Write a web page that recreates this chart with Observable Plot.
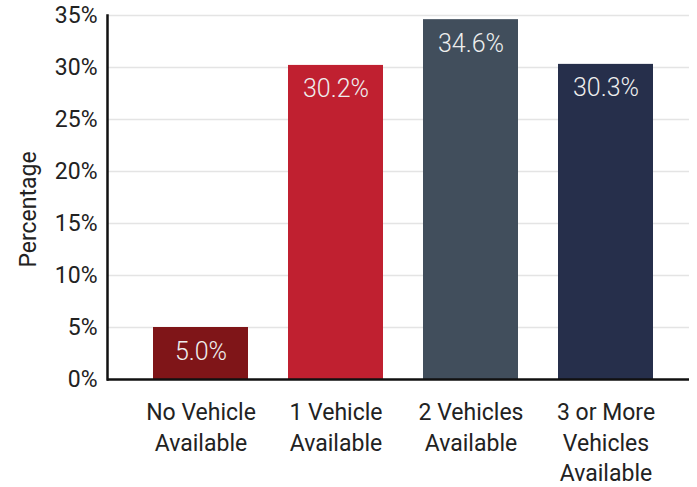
<!DOCTYPE html>
<html>
<head>
<meta charset="utf-8">
<script src="https://cdn.jsdelivr.net/npm/d3@7"></script>
<script src="https://cdn.jsdelivr.net/npm/@observablehq/plot@0.6"></script>
<style>
  html, body { margin: 0; padding: 0; background: #fff; }
  svg { font-family: Roboto, "Noto Sans", sans-serif; }
</style>
</head>
<body>
<div id="chart"></div>
<script>
const categories = ["No Vehicle Available", "1 Vehicle Available", "2 Vehicles Available", "3 or More Vehicles Available"];
const tickLabels = ["No Vehicle\nAvailable", "1 Vehicle\nAvailable", "2 Vehicles\nAvailable", "3 or More\nVehicles\nAvailable"];
const values = [5.0, 30.2, 34.6, 30.3];
const colors = ["#7f1518", "#c02030", "#414e5c", "#262f4b"];
const yTicks = [0, 5, 10, 15, 20, 25, 30, 35];
const yLabel = "Percentage";

const data = categories.map((c, i) => ({category: c, value: values[i], color: colors[i]}));
const labelOf = new Map(categories.map((c, i) => [c, tickLabels[i]]));

const chart = Plot.plot({
  width: 697,
  height: 487,
  marginTop: 15,
  marginBottom: 108,
  marginLeft: 107,
  marginRight: 8,
  style: {fontFamily: "Roboto, 'Noto Sans', sans-serif", fontSize: "23px", color: "#222"},
  x: {domain: categories, padding: 0.293, align: 0.57},
  y: {domain: [0, 35]},
  marks: [
    Plot.gridY(yTicks.filter(d => d > 0), {stroke: "#e4e4e4", strokeOpacity: 1, strokeWidth: 1.5}),
    Plot.barY(data, {x: "category", y: "value", fill: "color"}),
    Plot.text(data, {x: "category", y: "value", text: d => d.value.toFixed(1) + "%", dy: 24, fill: "#eeeeee", fontSize: 25, fontWeight: 300}),
    Plot.axisY({ticks: yTicks, tickFormat: d => d + "%", tickSize: 0, tickPadding: 10, fontSize: 23, fill: "#222", label: null}),
    Plot.text([yLabel], {frameAnchor: "left", textAnchor: "middle", rotate: -90, dx: -79, dy: 12, fontSize: 23, fill: "#222"}),
    Plot.axisX({tickSize: 0, tickPadding: 19, tickFormat: d => labelOf.get(d), fontSize: 23, lineHeight: 1.33, fill: "#222", label: null}),
    Plot.ruleY([0], {stroke: "#111", strokeWidth: 2.5}),
    Plot.frame({anchor: "left", stroke: "#111", strokeWidth: 2.5})
  ]
});
document.getElementById("chart").appendChild(chart);
</script>
</body>
</html>
